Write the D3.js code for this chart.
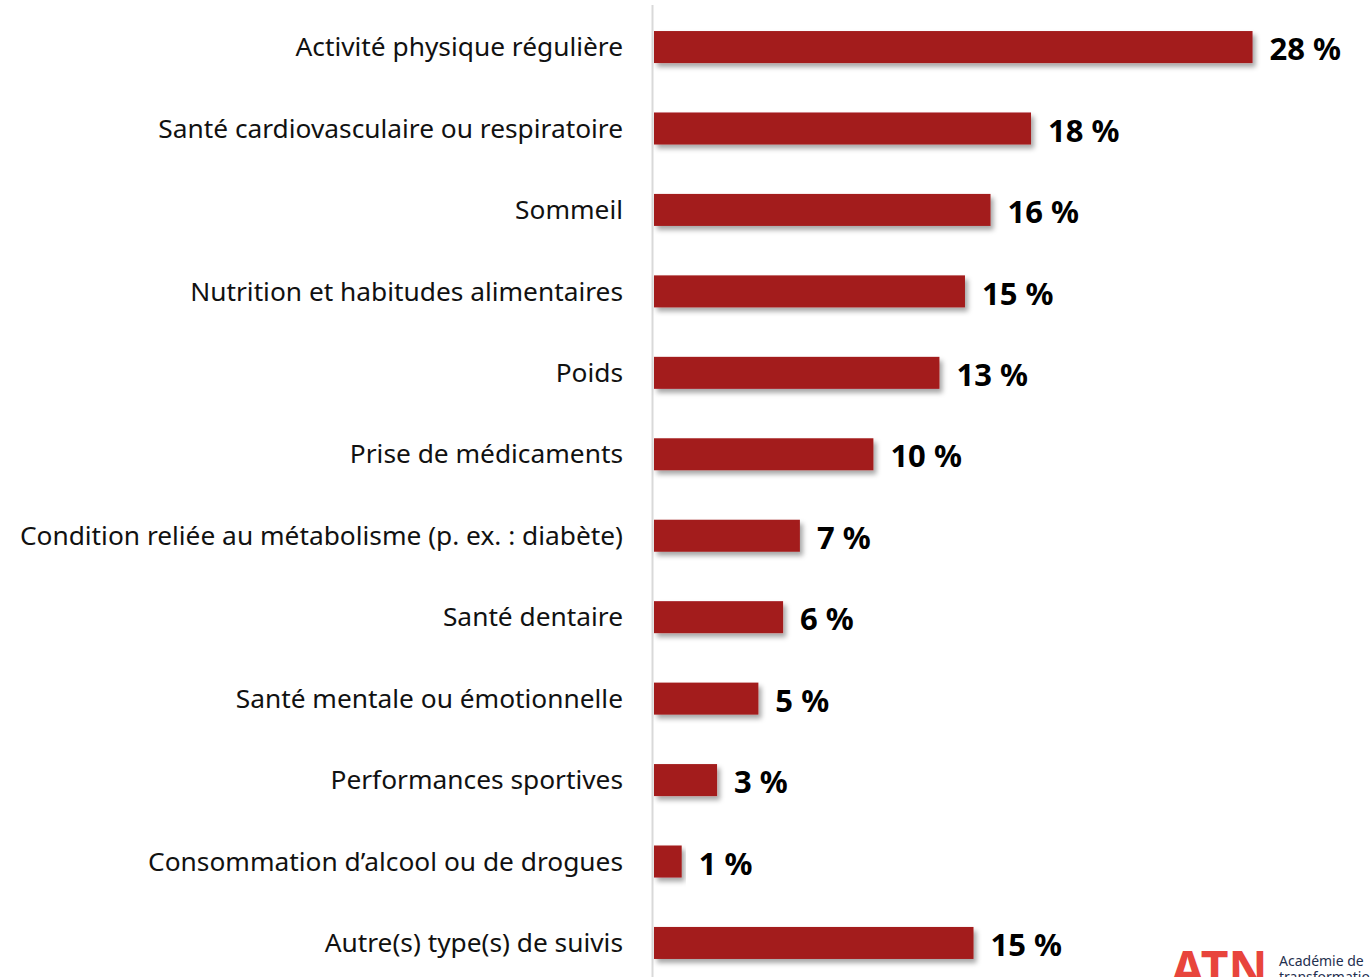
<html>
<head>
<meta charset="utf-8">
<script src="https://d3js.org/d3.v7.min.js"></script>
<style>
  body { margin: 0; background: #fff; overflow: hidden; }
</style>
</head>
<body>
<svg></svg>
<script>
  // categories and values (percent)
  const categories = [
    "Activité physique régulière",
    "Santé cardiovasculaire ou respiratoire",
    "Sommeil",
    "Nutrition et habitudes alimentaires",
    "Poids",
    "Prise de médicaments",
    "Condition reliée au métabolisme (p. ex. : diabète)",
    "Santé dentaire",
    "Santé mentale ou émotionnelle",
    "Performances sportives",
    "Consommation d’alcool ou de drogues",
    "Autre(s) type(s) de suivis"
  ];
  const values = [28.1, 17.7, 15.8, 14.6, 13.4, 10.3, 6.85, 6.06, 4.9, 2.96, 1.3, 15.0];
  const valueLabels = ["28 %", "18 %", "16 %", "15 %", "13 %", "10 %", "7 %", "6 %", "5 %", "3 %", "1 %", "15 %"];

  const width = 1370, height = 977;
  const svg = d3.select("svg").attr("width", width).attr("height", height);

  const defs = svg.append("defs");
  defs.append("filter").attr("id", "shadow")
    .attr("x", "-5%").attr("y", "-30%").attr("width", "120%").attr("height", "180%")
    .append("feDropShadow")
    .attr("dx", 3).attr("dy", 4).attr("stdDeviation", 2.5)
    .attr("flood-color", "#000").attr("flood-opacity", 0.35);

  const x = d3.scaleLinear().domain([0, 30]).range([654, 654 + 30 * 21.3]);
  const y = d3.scaleBand().domain(categories).range([6.6, 983.4])
    .paddingInner(0.607).paddingOuter(0.3);

  // axis line
  svg.append("line")
    .attr("x1", 652.5).attr("x2", 652.5)
    .attr("y1", 5).attr("y2", height)
    .attr("stroke", "#d9d9d9").attr("stroke-width", 2);

  svg.append("g").selectAll("rect")
    .data(categories)
    .join("rect")
    .attr("x", x(0))
    .attr("y", d => y(d))
    .attr("width", (d, i) => x(values[i]) - x(0))
    .attr("height", y.bandwidth())
    .attr("fill", "#a31c1d")
    .attr("filter", "url(#shadow)");

  svg.append("g").selectAll("text")
    .data(categories)
    .join("text")
    .attr("x", 623)
    .attr("y", d => y(d) + y.bandwidth() / 2)
    .attr("dy", "0.35em")
    .attr("text-anchor", "end")
    .style("font-family", "'Noto Sans', sans-serif")
    .style("font-size", "26.3px")
    .attr("fill", "#111")
    .text(d => d);

  svg.append("g").selectAll("text")
    .data(categories)
    .join("text")
    .attr("x", (d, i) => x(values[i]) + 17)
    .attr("y", d => y(d) + y.bandwidth() / 2 + 2)
    .attr("dy", "0.36em")
    .style("font-family", "'Noto Sans', sans-serif")
    .style("font-size", "31px")
    .style("font-weight", "bold")
    .attr("fill", "#000")
    .text((d, i) => valueLabels[i]);

  // logo, cut off at the bottom right
  const logo = svg.append("g");
  logo.append("text")
    .attr("x", 1171).attr("y", 986)
    .style("font-family", "'Noto Sans', sans-serif")
    .style("font-size", "48px")
    .style("font-weight", "bold")
    .attr("fill", "#e8453c")
    .text("ATN");
  logo.append("text")
    .attr("x", 1279).attr("y", 966)
    .style("font-family", "'Noto Sans', sans-serif")
    .style("font-size", "14px")
    .attr("fill", "#1f3050")
    .text("Académie de");
  logo.append("text")
    .attr("x", 1279).attr("y", 982)
    .style("font-family", "'Noto Sans', sans-serif")
    .style("font-size", "14px")
    .attr("fill", "#1f3050")
    .text("transformation");
</script>
</body>
</html>
